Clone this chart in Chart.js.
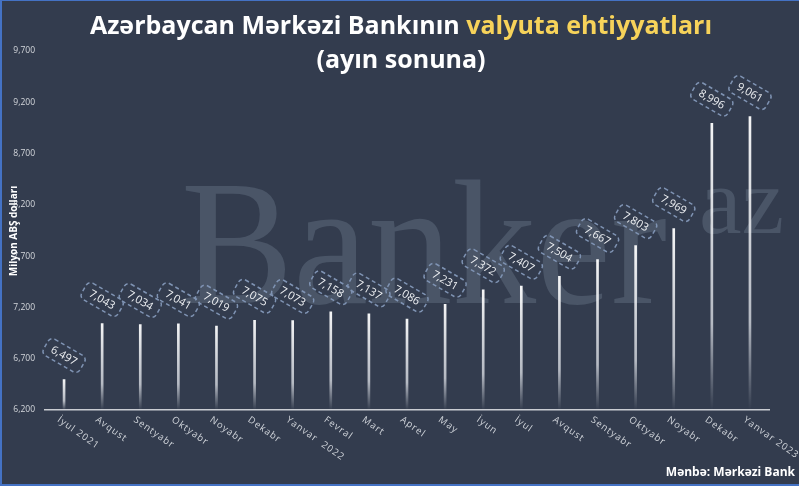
<!DOCTYPE html>
<html>
<head>
<meta charset="utf-8">
<script src="https://cdn.jsdelivr.net/npm/chart.js@4.4.1/dist/chart.umd.min.js"></script>
<style>
  html, body { margin: 0; padding: 0; background: #333c4e; }
  #wrap { position: relative; width: 799px; height: 486px; box-sizing: border-box; border-left: 2px solid #4472c4; border-bottom: 2px solid #4472c4; border-top: 1px solid #4472c4; }
  canvas { position: absolute; left: 0; top: 0; }
</style>
</head>
<body>
<div id="wrap"><canvas id="reserves" width="797" height="483"></canvas></div>
<script>
const months = ['İyul 2021', 'Avqust', 'Sentyabr', 'Oktyabr', 'Noyabr', 'Dekabr', 'Yanvar  2022', 'Fevral', 'Mart', 'Aprel', 'May', 'İyun', 'İyul', 'Avqust', 'Sentyabr', 'Oktyabr', 'Noyabr', 'Dekabr', 'Yanvar 2023'];
const reserves = [6497, 7043, 7034, 7041, 7019, 7075, 7073, 7158, 7137, 7086, 7231, 7372, 7407, 7504, 7667, 7803, 7969, 8996, 9061];
const yTicks = [6200, 6700, 7200, 7700, 8200, 8700, 9200, 9700];

const fmt = v => v.toLocaleString('en-US');

// the watermark, titles and rotated labels are drawn by hand
const decor = {
    id: 'decor',
    beforeDraw(chart) {
        const ctx = chart.ctx;
        ctx.save();
        ctx.fillStyle = '#4a5567';
        ctx.textBaseline = 'alphabetic';
        ctx.font = '178px "Liberation Serif"';
        ctx.fillText('Banker', 179, 302, 486);
        ctx.font = '96px "Liberation Serif"';
        ctx.fillText('az', 697, 232);
        ctx.restore();
    },
    afterDraw(chart) {
        const ctx = chart.ctx;
        const x = chart.scales.x, y = chart.scales.y;
        ctx.save();

        // title
        ctx.textBaseline = 'alphabetic';
        ctx.font = 'bold 25px "Open Sans"';
        const t1 = 'Azərbaycan Mərkəzi Bankının ', t2 = 'valyuta ehtiyyatları';
        const w1 = ctx.measureText(t1).width, w2 = ctx.measureText(t2).width;
        let sx = 399 - (w1 + w2) / 2;
        ctx.fillStyle = '#ffffff';
        ctx.fillText(t1, sx, 33);
        ctx.fillStyle = '#f7d35a';
        ctx.fillText(t2, sx + w1, 33);
        ctx.fillStyle = '#ffffff';
        ctx.textAlign = 'center';
        ctx.fillText('(ayın sonuna)', 399, 67);

        // source
        ctx.textAlign = 'right';
        ctx.font = 'bold 12px "Open Sans"';
        ctx.fillText('Mənbə: Mərkəzi Bank', 793, 475);

        // y title
        ctx.save();
        ctx.translate(12, 230);
        ctx.rotate(-Math.PI / 2);
        ctx.textAlign = 'center';
        ctx.textBaseline = 'middle';
        ctx.font = 'bold 10px "Open Sans"';
        ctx.fillText('Milyon ABŞ dolları', 0, 0);
        ctx.restore();

        // x labels
        ctx.font = '9.5px "Open Sans"';
        ctx.fillStyle = '#d0d4da';
        ctx.textAlign = 'left';
        ctx.textBaseline = 'top';
        if ('letterSpacing' in ctx) ctx.letterSpacing = '1px';
        months.forEach((m, i) => {
            const px = x.getPixelForValue(i);
            ctx.save();
            ctx.translate(px - 3, 414);
            ctx.rotate(35 * Math.PI / 180);
            ctx.fillText(m, 0, 0);
            ctx.restore();
        });
        if ('letterSpacing' in ctx) ctx.letterSpacing = '0px';

        // value boxes
        ctx.font = '11px "Open Sans"';
        ctx.textAlign = 'center';
        ctx.textBaseline = 'middle';
        reserves.forEach((v, i) => {
            const px = x.getPixelForValue(i);
            const py = y.getPixelForValue(v) - 24;
            ctx.save();
            ctx.translate(px, py);
            ctx.rotate(30 * Math.PI / 180);
            ctx.beginPath();
            ctx.roundRect(-21, -9.5, 42, 19, 5);
            ctx.setLineDash([4, 3]);
            ctx.lineWidth = 1.5;
            ctx.strokeStyle = '#7f93b3';
            ctx.stroke();
            ctx.fillStyle = '#eef0f3';
            ctx.fillText(fmt(v), 0, 0.5);
            ctx.restore();
        });
        ctx.restore();
    }
};

new Chart(document.getElementById('reserves'), {
    type: 'bar',
    data: {
        labels: months,
        datasets: [{
            data: reserves,
            barThickness: 2,
            backgroundColor(c) {
                const chart = c.chart;
                if (!chart.chartArea) return '#ffffff';
                const top = chart.scales.y.getPixelForValue(c.raw);
                const g = chart.ctx.createLinearGradient(0, top, 0, chart.chartArea.bottom);
                g.addColorStop(0, 'rgba(255,255,255,0.95)');
                g.addColorStop(0.7, 'rgba(225,228,234,0.75)');
                g.addColorStop(1, 'rgba(220,224,230,0)');
                return g;
            }
        }]
    },
    options: {
        responsive: false,
        animation: false,
        layout: { padding: { top: 50, right: 30, left: 0, bottom: 0 } },
        plugins: { legend: { display: false }, tooltip: { enabled: false } },
        scales: {
            x: {
                grid: { display: false },
                border: { display: true, color: '#c9ccd2', width: 1.5 },
                ticks: { display: false },
                afterFit(s) { s.height = 74; }
            },
            y: {
                min: 6200, max: 9700,
                grid: { display: false, drawTicks: false },
                border: { display: false },
                afterBuildTicks(s) { s.ticks = yTicks.map(v => ({ value: v })); },
                ticks: {
                    padding: 10,
                    color: '#d4d7dc',
                    font: { family: 'Open Sans', size: 8.5 },
                    callback: v => fmt(v)
                },
                afterFit(s) { s.width = 43; }
            }
        }
    },
    plugins: [decor]
});
</script>
</body>
</html>
